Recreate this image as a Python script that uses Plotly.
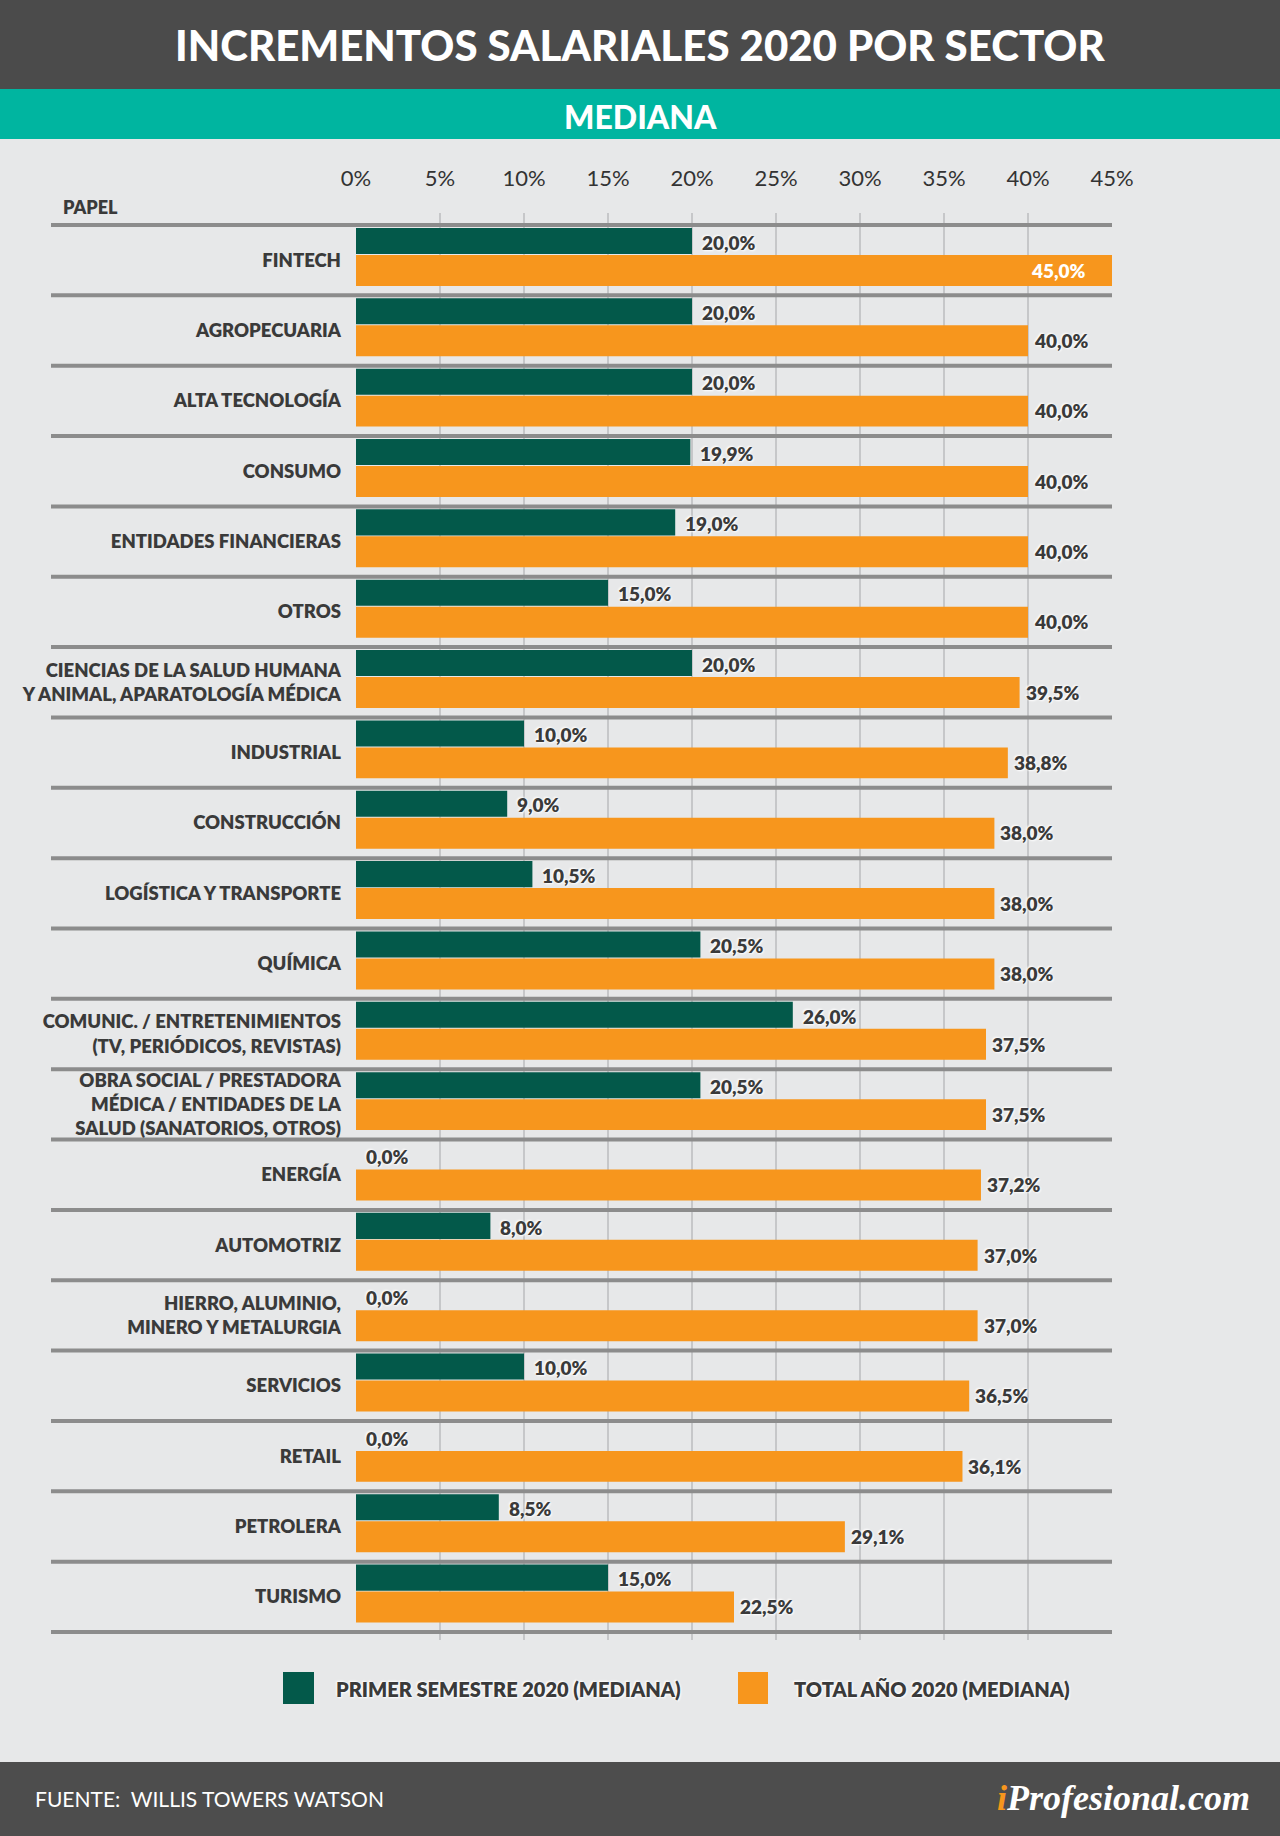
import plotly.graph_objects as go

# ---------------- data ----------------
sectors = [
    "FINTECH",
    "AGROPECUARIA",
    "ALTA TECNOLOGÍA",
    "CONSUMO",
    "ENTIDADES FINANCIERAS",
    "OTROS",
    "CIENCIAS DE LA SALUD HUMANA<br>Y ANIMAL, APARATOLOGÍA MÉDICA",
    "INDUSTRIAL",
    "CONSTRUCCIÓN",
    "LOGÍSTICA Y TRANSPORTE",
    "QUÍMICA",
    "COMUNIC. / ENTRETENIMIENTOS<br>(TV, PERIÓDICOS, REVISTAS)",
    "OBRA SOCIAL / PRESTADORA<br>MÉDICA / ENTIDADES DE LA<br>SALUD (SANATORIOS, OTROS)",
    "ENERGÍA",
    "AUTOMOTRIZ",
    "HIERRO, ALUMINIO,<br>MINERO Y METALURGIA",
    "SERVICIOS",
    "RETAIL",
    "PETROLERA",
    "TURISMO",
]
primer_semestre = [20.0, 20.0, 20.0, 19.9, 19.0, 15.0, 20.0, 10.0, 9.0, 10.5,
                   20.5, 26.0, 20.5, 0.0, 8.0, 0.0, 10.0, 0.0, 8.5, 15.0]
total_anio = [45.0, 40.0, 40.0, 40.0, 40.0, 40.0, 39.5, 38.8, 38.0, 38.0,
              38.0, 37.5, 37.5, 37.2, 37.0, 37.0, 36.5, 36.1, 29.1, 22.5]
tick_values = [0, 5, 10, 15, 20, 25, 30, 35, 40, 45]
tick_labels = ["0%", "5%", "10%", "15%", "20%", "25%", "30%", "35%", "40%", "45%"]
series_names = ["PRIMER SEMESTRE 2020 (MEDIANA)", "TOTAL AÑO 2020 (MEDIANA)"]

# ---------------- style ----------------
W, H = 1280, 1836
L, R, T, B = 356, 168, 213, 196
PW, PH = W - L - R, H - T - B
GREEN = "#03594a"
ORANGE = "#f7961d"
BG = "#e7e8e9"
DARK = "#4b4b4b"
TEAL = "#00b5a0"
TXT = "#3a3a3a"
FONT = "Lato"
n = len(sectors)
unit = 70.35  # px per category


def px(x):
    return (x - L) / PW


def py(y):
    return (H - B - y) / PH


def fmt(v):
    return f"{v:.1f}".replace(".", ",") + "%"


fig = go.Figure()
fig.add_trace(go.Bar(
    y=sectors, x=primer_semestre, orientation="h", name=series_names[0],
    marker=dict(color=GREEN, line=dict(width=0)),
    offset=-0.458, width=0.37, hoverinfo="x+y"))
fig.add_trace(go.Bar(
    y=sectors, x=total_anio, orientation="h", name=series_names[1],
    marker=dict(color=ORANGE, line=dict(width=0)),
    offset=-0.074, width=0.44, hoverinfo="x+y"))

shapes = []
annotations = []

# header / footer bands
shapes.append(dict(type="rect", xref="paper", yref="paper", x0=px(0), x1=px(W),
                   y0=py(89), y1=py(0), fillcolor=DARK, line_width=0, layer="below"))
shapes.append(dict(type="rect", xref="paper", yref="paper", x0=px(0), x1=px(W),
                   y0=py(139), y1=py(89), fillcolor=TEAL, line_width=0, layer="below"))
shapes.append(dict(type="rect", xref="paper", yref="paper", x0=px(0), x1=px(W),
                   y0=py(H), y1=py(1762), fillcolor="#4d4d4d", line_width=0, layer="below"))

# row separators
for i in range(n + 1):
    shapes.append(dict(type="line", xref="paper", yref="y", x0=px(51), x1=1.0,
                       y0=i - 0.5, y1=i - 0.5, line=dict(color="#8c8c8c", width=4),
                       layer="above"))

# value labels
shadow = "1px 1px 2px #ffffff, -1px -1px 2px #ffffff"
for s, v in zip(sectors, primer_semestre):
    annotations.append(dict(x=v, y=s, xref="x", yref="y", text=fmt(v), showarrow=False,
                            xanchor="left", yanchor="middle", xshift=8, yshift=18,
                            font=dict(family=FONT, size=19, color=TXT, weight=800,
                                      shadow=shadow)))
for s, v in zip(sectors, total_anio):
    inside = v >= 44
    annotations.append(dict(x=v, y=s, xref="x", yref="y", text=fmt(v), showarrow=False,
                            xanchor="right" if inside else "left", yanchor="middle",
                            xshift=-24 if inside else 4, yshift=-10,
                            font=dict(family=FONT, size=19,
                                      color="#ffffff" if inside else TXT, weight=800,
                                      shadow="none" if inside else shadow)))

# titles
annotations.append(dict(x=px(640), y=py(45), xref="paper", yref="paper",
                        text="INCREMENTOS SALARIALES 2020 POR SECTOR", showarrow=False,
                        xanchor="center", yanchor="middle",
                        font=dict(family=FONT, size=42, color="#ffffff", weight=900)))
annotations.append(dict(x=px(640), y=py(116), xref="paper", yref="paper",
                        text="MEDIANA", showarrow=False, xanchor="center", yanchor="middle",
                        font=dict(family=FONT, size=32, color="#ffffff", weight=900)))
annotations.append(dict(x=px(61), y=py(207), xref="paper", yref="paper", text="PAPEL",
                        showarrow=False, xanchor="left", yanchor="middle",
                        font=dict(family=FONT, size=18, color=TXT, weight=800)))

# legend
for (x0, x1, tx), col, name in zip([(283, 314, 334), (738, 768, 792)], [GREEN, ORANGE], series_names):
    shapes.append(dict(type="rect", xref="paper", yref="paper", x0=px(x0), x1=px(x1),
                       y0=py(1704), y1=py(1672), fillcolor=col, line_width=0))
    annotations.append(dict(x=px(tx), y=py(1689), xref="paper", yref="paper", text=name,
                            showarrow=False, xanchor="left", yanchor="middle",
                            font=dict(family=FONT, size=20, color=TXT, weight=800,
                                      shadow=shadow)))

# footer
annotations.append(dict(x=px(33), y=py(1798), xref="paper", yref="paper",
                        text="FUENTE:  WILLIS TOWERS WATSON", showarrow=False,
                        xanchor="left", yanchor="middle",
                        font=dict(family=FONT, size=21, color="#ffffff")))
annotations.append(dict(x=px(1252), y=py(1798), xref="paper", yref="paper",
                        text="<span style='color:#f7961d'>i</span>Profesional.com",
                        showarrow=False, xanchor="right", yanchor="middle",
                        font=dict(family="Liberation Serif", size=36, color="#ffffff",
                                  weight="bold", style="italic")))

fig.update_layout(
    width=W, height=H, autosize=False,
    margin=dict(l=L, r=R, t=T, b=B, pad=0),
    paper_bgcolor=BG, plot_bgcolor=BG,
    barmode="overlay", showlegend=False,
    shapes=shapes, annotations=annotations,
    xaxis=dict(range=[0, 45], side="top", tickmode="array", tickvals=tick_values,
               ticktext=tick_labels, showgrid=True, gridcolor="#c6c7c9", gridwidth=1.5,
               zeroline=False, showline=False, ticks="", ticklabelstandoff=22,
               tickfont=dict(family=FONT, size=22, color="#333333"), fixedrange=True),
    yaxis=dict(type="category", categoryorder="array", categoryarray=sectors,
               range=[n - 0.5 + 8 / unit, -0.5 - 12 / unit], showgrid=False,
               zeroline=False, showline=False, ticks="", ticklabelstandoff=14,
               tickfont=dict(family=FONT, size=18.5, color=TXT, weight=800),
               fixedrange=True),
)

fig.write_html("out.html", config={"displayModeBar": False})

# remove the default page margin so the figure sits flush in the window
with open("out.html", "r", encoding="utf-8") as f:
    html = f.read()
html = html.replace("<head>", "<head><style>html,body{margin:0;padding:0;background:#e7e8e9;overflow:hidden}</style>", 1)
with open("out.html", "w", encoding="utf-8") as f:
    f.write(html)
